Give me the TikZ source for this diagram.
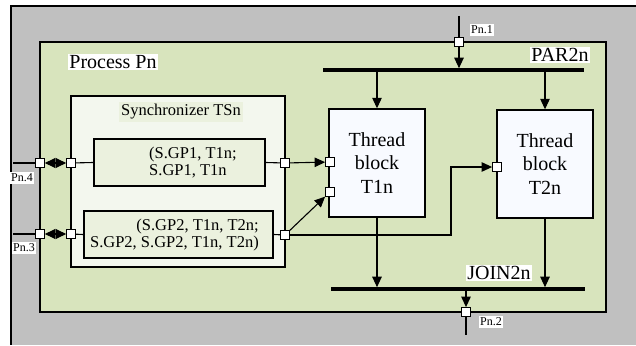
\documentclass[tikz,border=0pt]{standalone}
\usepackage{fontspec}
\setmainfont{Liberation Serif}
\usetikzlibrary{arrows.meta}
\definecolor{outergray}{RGB}{192,192,192}
\definecolor{procgreen}{RGB}{216,228,189}
\definecolor{syncfill}{RGB}{243,247,238}
\definecolor{gpfill}{RGB}{235,241,222}
\definecolor{threadfill}{RGB}{248,250,255}
\begin{document}
\begin{tikzpicture}[x=1pt,y=-1pt,
  portbox/.style={draw,fill=white,line width=1.3pt,minimum size=8.5pt,inner sep=0pt},
  gpbox/.style={draw,fill=gpfill,line width=1.4pt,inner sep=0pt},
  threadbox/.style={draw,fill=threadfill,line width=1.4pt,minimum width=96pt,minimum height=108pt,align=center,font=\fontsize{20}{23.5}\selectfont},
  barline/.style={fill=black,inner sep=0pt,minimum height=3.2pt},
  pntag/.style={fill=white,inner sep=1.5pt,font=\fontsize{12}{12}\selectfont},
  heading/.style={fill=white,inner sep=1.5pt,font=\fontsize{20}{20}\selectfont},
  gptext/.style={inner sep=0pt,font=\fontsize{16.5}{17}\selectfont},
  wire/.style={line width=1.1pt},
  flowarrow/.style={line width=1.1pt,-{Triangle[length=10.5pt,width=9.5pt]}},
  duplex/.style={line width=1.1pt,{Triangle[length=10.5pt,width=10pt]}-{Triangle[length=10.5pt,width=10pt]}}]
\useasboundingbox (0,0) rectangle (636,345);
\fill[outergray] (11,6) rectangle (636,345);
\draw[line width=1.4pt] (636,6) -- (11,6) -- (11,345);
\draw[line width=1.4pt,fill=procgreen] (40,42) rectangle (606,312);
\draw[line width=1.4pt,fill=syncfill] (71,96) rectangle (285,267);
\node[heading] (proc) at (113,62) {Process Pn};
\node[gptext,fill=gpfill,inner sep=2pt] (syncname) at (181,112) {Synchronizer TSn};
\node[gpbox,minimum width=171pt,minimum height=47pt] (gp1) at (179.5,162.5) {};
\node[gptext,anchor=west,align=left] (gp1text) at (149,163) {(S.GP1, T1n;\\S.GP1, T1n};
\node[gpbox,minimum width=189pt,minimum height=47pt] (gp2) at (178.5,234.5) {};
\node[gptext,anchor=east,align=right] (gp2text) at (259,235) {(S.GP2, T1n, T2n;\\S.GP2, S.GP2, T1n, T2n)};
\node[threadbox] (t1) at (377,163) {Thread\\block\\T1n};
\node[threadbox] (t2) at (545,164) {Thread\\block\\T2n};
\node[barline,minimum width=261pt] (par) at (453.5,70) {};
\node[barline,minimum width=254pt] (join) at (458,289) {};
\node[heading] (parname) at (560,55) {PAR2n};
\node[heading] (joinname) at (499,273) {JOIN2n};
\node[portbox] (p1) at (459,42) {};
\node[portbox] (p2) at (466,312) {};
\node[portbox] (p4out) at (40,163) {};
\node[portbox] (p4in) at (71,163) {};
\node[portbox] (p3out) at (40,234) {};
\node[portbox] (p3in) at (71,234) {};
\node[portbox] (s1) at (285,163) {};
\node[portbox] (s2) at (285,235) {};
\node[portbox] (t1a) at (330,162) {};
\node[portbox] (t1b) at (330,192) {};
\node[portbox] (t2a) at (497,167) {};
\node[pntag] (pn1) at (482,30) {Pn.1};
\node[pntag] (pn2) at (491,322) {Pn.2};
\node[pntag] (pn4) at (22,178) {Pn.4};
\node[pntag] (pn3) at (24,248) {Pn.3};
\coordinate (in1) at (459,16);
\coordinate (out2) at (466,335);
\coordinate (in4) at (13,163);
\coordinate (in3) at (13,234);
\coordinate (bend) at (451,235);
\draw[wire] (in1) -- (p1);
\draw[flowarrow] (p1) -- (p1 |- par.north);
\draw[flowarrow] (t1.north |- par.south) -- (t1.north);
\draw[flowarrow] (t2.north |- par.south) -- (t2.north);
\draw[flowarrow] (t1.south) -- (t1.south |- join.north);
\draw[flowarrow] (t2.south) -- (t2.south |- join.north);
\draw[flowarrow] (p2 |- join.south) -- (p2);
\draw[wire] (p2) -- (out2);
\draw[wire] (in4) -- (p4out);
\draw[duplex] (p4out) -- (p4in);
\draw[wire] (p4in) -- (gp1.west);
\draw[wire] (gp1.east) -- (s1);
\draw[flowarrow] (s1) -- (t1a);
\draw[wire] (in3) -- (p3out);
\draw[duplex] (p3out) -- (p3in);
\draw[wire] (p3in) -- (gp2.west);
\draw[wire] (gp2.east) -- (s2);
\draw[flowarrow] (s2) -- (t1b);
\draw[flowarrow] (s2) -- (bend) |- (t2a);
\end{tikzpicture}
\end{document}
